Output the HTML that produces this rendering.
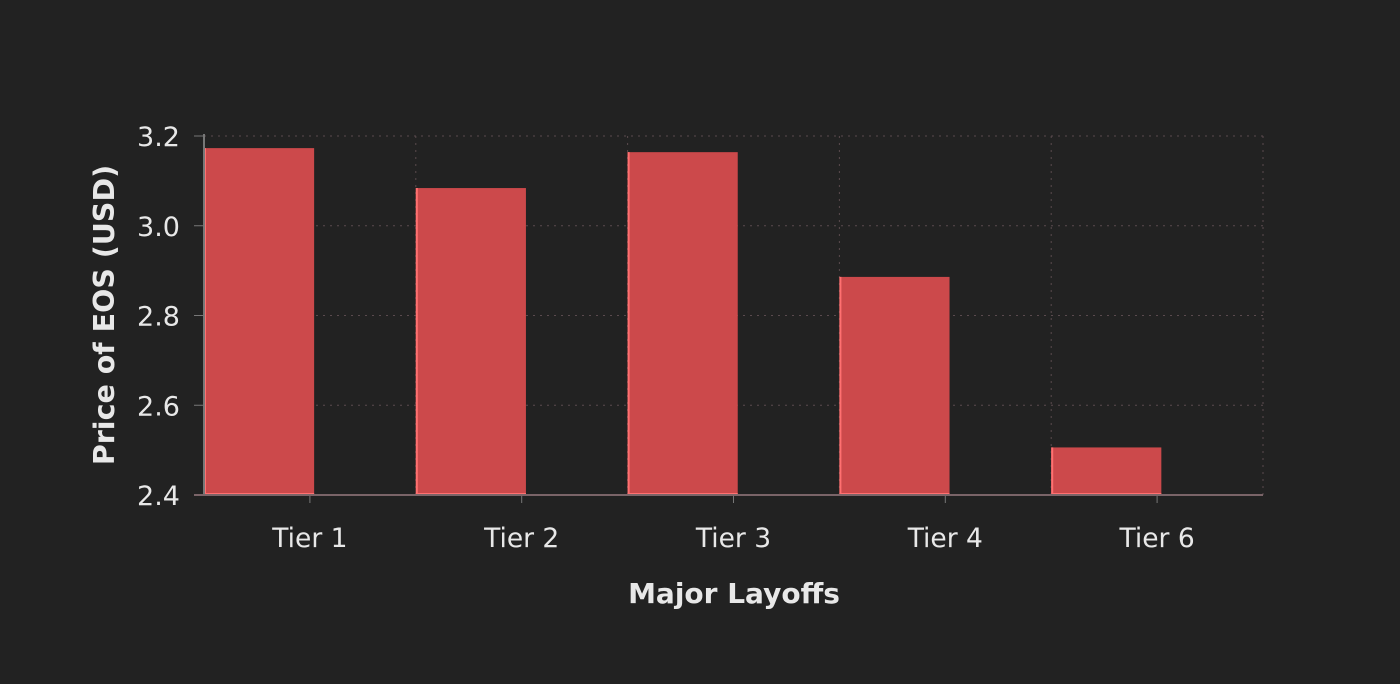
<!DOCTYPE html>
<html><head><meta charset="utf-8"><style>
body{margin:0;background:#222222;}
svg{display:block;font-family:"DejaVu Sans","Liberation Sans",sans-serif;}
</style></head><body>
<svg id="chart" width="1400" height="684">
<rect width="1400" height="684" fill="#222222"/>
<g id="grid"></g><g id="bars"></g><g id="axes"></g>
<text x="734" y="603" text-anchor="middle" fill="#e8e8e8" font-size="28" font-weight="bold">Major Layoffs</text>
<text transform="translate(114,315) rotate(-90)" text-anchor="middle" fill="#e8e8e8" font-size="28.5" font-weight="bold">Price of EOS (USD)</text>
</svg>
<script>
const categories=["Tier 1","Tier 2","Tier 3","Tier 4","Tier 6"];
const values=[3.173,3.084,3.164,2.886,2.506];
const yTicks=[2.4,2.6,2.8,3.0,3.2];
const yTickLabels=["2.4","2.6","2.8","3.0","3.2"];
const NS="http://www.w3.org/2000/svg";
const L=204,R=1263,T=136,B=495,yMin=2.4,yMax=3.2;
const band=(R-L)/categories.length;
const y=v=>B-(v-yMin)/(yMax-yMin)*(B-T);
const x=i=>L+i*band;
function mk(tag,attrs,parent){const e=document.createElementNS(NS,tag);for(const k in attrs)e.setAttribute(k,attrs[k]);document.getElementById(parent).appendChild(e);return e;}
yTicks.forEach((t,i)=>{
  const g=mk('line',{x1:L,x2:R,y1:y(t),y2:y(t),stroke:'#5a4a4e','stroke-dasharray':'2,5'},'grid');
  
  
  const tk=mk('line',{x1:L-10,x2:L,y1:y(t),y2:y(t),stroke:'#777'},'axes');
  
  
  const lb=mk('text',{x:L-24,y:y(t)+10,'text-anchor':'end',fill:'#e8e8e8','font-size':'27'},'axes');
  lb.textContent=yTickLabels[i];
  
  
});
categories.forEach((c,i)=>{
  const gx=x(i+1);
  const g=mk('line',{x1:gx,x2:gx,y1:T,y2:B,stroke:'#5a4a4e','stroke-dasharray':'2,5'},'grid');
  
  
  const bw=band*0.52;
  const b=mk('rect',{x:x(i),y:y(values[i]),width:bw,height:B-y(values[i]),fill:'#cc494b'},'bars');
  
  
  const e=mk('path',{d:`M${x(i)+1},${y(values[i])}V${B-1}H${x(i)+bw}`,stroke:'#ff7070','stroke-width':2,fill:'none'},'bars');
  
  
  const cx=x(i)+band/2;
  const tk=mk('line',{x1:cx,x2:cx,y1:B,y2:B+8,stroke:'#777'},'axes');
  
  
  const lb=mk('text',{x:cx,y:547,'text-anchor':'middle',fill:'#e8e8e8','font-size':'26.5'},'axes');
  lb.textContent=c;
  
  
});
const ax=mk('line',{x1:L,x2:L,y1:T-2,y2:B,stroke:'#777','stroke-width':2},'axes');


const bx=mk('line',{x1:L-10,x2:R,y1:B,y2:B,stroke:'#7a6468','stroke-width':2},'axes');


</script>
</body></html>
